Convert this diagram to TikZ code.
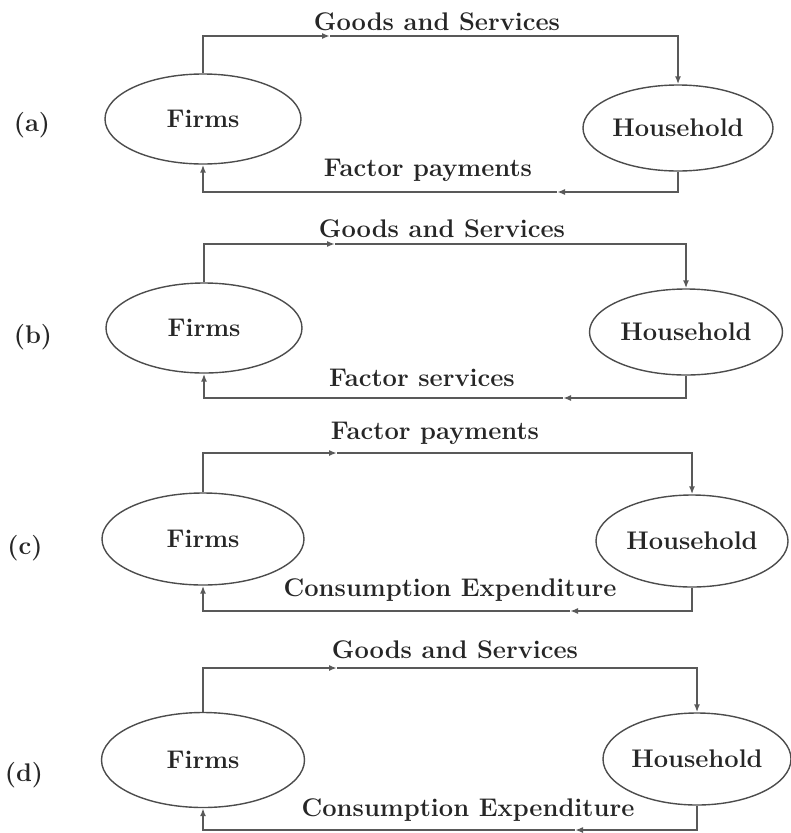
\documentclass[tikz,border=0pt]{standalone}
\usetikzlibrary{shapes,positioning,arrows.meta}

\begin{document}
\begin{tikzpicture}[
    x=1pt, y=-1pt,
    every node/.style = {font=\fontsize{25.5}{30}\selectfont\bfseries, text=black!85},
    agent/.style = {ellipse, draw=black!70, line width=1.4pt, inner sep=0pt, minimum width=196pt, minimum height=90pt},
    flow/.style = {-{Latex[length=8pt,width=6pt]}, draw=black!65, line width=1.6pt},
    tag/.style = {},
    caption/.style = {}
    ]
    \useasboundingbox (0,0) rectangle (791,833);

    % (a)
    \node[tag] (tag-a) at (32,125) {(a)};
    \node[agent] (firms-a) at (203,119) {Firms};
    \node[agent, minimum width=190pt, minimum height=86pt] (house-a) at (678,128) {Household};
    \coordinate (top-a) at (330,36);
    \coordinate (bot-a) at (557,192);
    \node[caption] (goods-a) at (437,22) {Goods and Services};
    \node[caption] (pay-a) at (428,170) {Factor payments};
    \draw[flow] (firms-a.north) |- (top-a);
    \draw[flow] (top-a) -| (house-a.north);
    \draw[flow] (house-a.south) |- (bot-a);
    \draw[flow] (bot-a) -| (firms-a.south);

    % (b)
    \node[tag] (tag-b) at (33,337) {(b)};
    \node[agent] (firms-b) at (204,328) {Firms};
    \node[agent, minimum width=193pt, minimum height=86pt] (house-b) at (686,332) {Household};
    \coordinate (top-b) at (335,244);
    \coordinate (bot-b) at (563,398);
    \node[caption] (goods-b) at (442,229) {Goods and Services};
    \node[caption] (serv-b) at (422,378) {Factor services};
    \draw[flow] (firms-b.north) |- (top-b);
    \draw[flow] (top-b) -| (house-b.north);
    \draw[flow] (house-b.south) |- (bot-b);
    \draw[flow] (bot-b) -| (firms-b.south);

    % (c)
    \node[tag] (tag-c) at (25,548) {(c)};
    \node[agent, minimum width=202pt, minimum height=92pt] (firms-c) at (203,539) {Firms};
    \node[agent, minimum width=192pt, minimum height=92pt] (house-c) at (692,541) {Household};
    \coordinate (top-c) at (337,453);
    \coordinate (bot-c) at (570,611);
    \node[caption] (pay-c) at (435,433) {Factor payments};
    \node[caption] (cons-c) at (450,590) {Consumption Expenditure};
    \draw[flow] (firms-c.north) |- (top-c);
    \draw[flow] (top-c) -| (house-c.north);
    \draw[flow] (house-c.south) |- (bot-c);
    \draw[flow] (bot-c) -| (firms-c.south);

    % (d)
    \node[tag] (tag-d) at (24,775) {(d)};
    \node[agent, minimum width=203pt, minimum height=95pt] (firms-d) at (203,760) {Firms};
    \node[agent, minimum width=188pt, minimum height=92pt] (house-d) at (697,759) {Household};
    \coordinate (top-d) at (337,668);
    \coordinate (bot-d) at (575,830);
    \node[caption] (goods-d) at (455,650) {Goods and Services};
    \node[caption] (cons-d) at (468,810) {Consumption Expenditure};
    \draw[flow] (firms-d.north) |- (top-d);
    \draw[flow] (top-d) -| (house-d.north);
    \draw[flow] (house-d.south) |- (bot-d);
    \draw[flow] (bot-d) -| (firms-d.south);
\end{tikzpicture}
\end{document}
